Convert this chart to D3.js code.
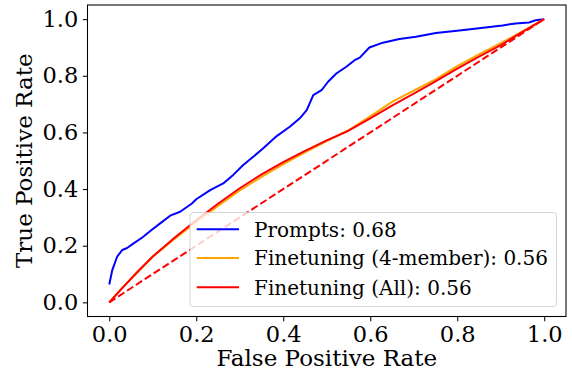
<!DOCTYPE html>
<html>
<head>
<meta charset="utf-8">
<script src="https://cdn.jsdelivr.net/npm/d3@7"></script>
<style>
  html, body { margin: 0; padding: 0; background: #fff; }
  svg { display: block; }
  text { font-family: "DejaVu Serif", serif; fill: #000; }
</style>
</head>
<body>
<svg id="chart" width="572" height="376"></svg>
<script>
// ---- data ----
const promptsFpr = [0, 0.007, 0.018, 0.03, 0.041, 0.056, 0.076, 0.095, 0.117, 0.14, 0.163, 0.19, 0.2, 0.232, 0.262, 0.285, 0.308, 0.331, 0.354, 0.385, 0.415, 0.438, 0.454, 0.469, 0.488, 0.503, 0.522, 0.545, 0.564, 0.576, 0.598, 0.629, 0.667, 0.705, 0.751, 0.805, 0.85, 0.904, 0.934, 0.965, 0.98, 1.0];
const promptsTpr = [0.063, 0.114, 0.161, 0.185, 0.192, 0.208, 0.229, 0.253, 0.279, 0.306, 0.32, 0.349, 0.364, 0.396, 0.42, 0.45, 0.485, 0.514, 0.544, 0.587, 0.62, 0.65, 0.679, 0.732, 0.749, 0.779, 0.808, 0.832, 0.855, 0.864, 0.9, 0.917, 0.93, 0.938, 0.951, 0.96, 0.968, 0.978, 0.985, 0.988, 0.996, 1.0];

const ft4Fpr = [0, 0.03, 0.06, 0.1, 0.15, 0.2, 0.25, 0.3, 0.35, 0.4, 0.45, 0.5, 0.55, 0.6, 0.65, 0.7, 0.75, 0.8, 0.85, 0.9, 0.95, 1.0];
const ft4Tpr = [0, 0.052, 0.098, 0.161, 0.224, 0.284, 0.34, 0.395, 0.443, 0.488, 0.53, 0.569, 0.607, 0.657, 0.708, 0.748, 0.787, 0.834, 0.876, 0.915, 0.957, 1.0];

const ftAllFpr = [0, 0.03, 0.06, 0.1, 0.15, 0.2, 0.25, 0.3, 0.35, 0.4, 0.45, 0.5, 0.55, 0.6, 0.65, 0.7, 0.75, 0.8, 0.85, 0.9, 0.95, 1.0];
const ftAllTpr = [0, 0.05, 0.1, 0.162, 0.228, 0.29, 0.348, 0.403, 0.452, 0.495, 0.535, 0.572, 0.606, 0.65, 0.695, 0.737, 0.78, 0.825, 0.868, 0.908, 0.955, 1.0];

const chanceFpr = [0, 1];
const chanceTpr = [0, 1];

const xTicks = [0, 0.2, 0.4, 0.6, 0.8, 1.0];
const yTicks = [0, 0.2, 0.4, 0.6, 0.8, 1.0];
const seriesNames = ["Prompts: 0.68", "Finetuning (4-member): 0.56", "Finetuning (All): 0.56"];
const seriesColors = ["#0000ff", "#ffa500", "#ff0000"];

// ---- layout ----
const svg = d3.select("#chart");
const L = 87.5, R = 566, T = 5, B = 316.5;
const x = d3.scaleLinear().domain([-0.05, 1.05]).range([L, R]);
const y = d3.scaleLinear().domain([-0.05, 1.05]).range([B, T]);

const zip = (a, b) => a.map((v, i) => [v, b[i]]);
const line = d3.line().x(d => x(d[0])).y(d => y(d[1]));

const plot = svg.append("g");
plot.append("path").datum(zip(promptsFpr, promptsTpr))
  .attr("d", line).attr("fill", "none").attr("stroke", seriesColors[0]).attr("stroke-width", 2).attr("stroke-linejoin", "round");
plot.append("path").datum(zip(ft4Fpr, ft4Tpr))
  .attr("d", line).attr("fill", "none").attr("stroke", seriesColors[1]).attr("stroke-width", 2).attr("stroke-linejoin", "round");
plot.append("path").datum(zip(ftAllFpr, ftAllTpr))
  .attr("d", line).attr("fill", "none").attr("stroke", seriesColors[2]).attr("stroke-width", 2).attr("stroke-linejoin", "round");
plot.append("path").datum(zip(chanceFpr, chanceTpr))
  .attr("d", line).attr("fill", "none").attr("stroke", "#ff0000").attr("stroke-width", 2).attr("stroke-dasharray", "7.4,3.2");

// axes
const xAxis = d3.axisBottom(x).tickValues(xTicks).tickFormat(d3.format(".1f")).tickSizeOuter(0).tickSize(4.7).tickPadding(4.5);
const yAxis = d3.axisLeft(y).tickValues(yTicks).tickFormat(d3.format(".1f")).tickSizeOuter(0).tickSize(4.7).tickPadding(4.5);
const gx = svg.append("g").attr("transform", `translate(0,${B})`).call(xAxis);
const gy = svg.append("g").attr("transform", `translate(${L},0)`).call(yAxis);
[gx, gy].forEach(g => {
  g.select(".domain").remove();
  g.selectAll(".tick line").attr("stroke", "#000").attr("stroke-width", 1.07);
  g.selectAll(".tick text").style("font-family", "DejaVu Serif").style("font-size", "22.5px").attr("fill", "#000");
});

// frame
svg.append("rect").attr("x", L).attr("y", T).attr("width", R - L).attr("height", B - T)
  .attr("fill", "none").attr("stroke", "#000").attr("stroke-width", 1.07);

// axis labels
svg.append("text").attr("x", (L + R) / 2).attr("y", 366).attr("text-anchor", "middle")
  .style("font-size", "23px").text("False Positive Rate");
svg.append("text").attr("transform", `translate(32,${(T + B) / 2}) rotate(-90)`).attr("text-anchor", "middle")
  .style("font-size", "23px").text("True Positive Rate");

// legend
const lg = svg.append("g");
lg.append("rect").attr("x", 190).attr("y", 212.5).attr("width", 366.5).attr("height", 94).attr("rx", 3)
  .attr("fill", "#fff").attr("fill-opacity", 0.8).attr("stroke", "#cccccc").attr("stroke-opacity", 0.8).attr("stroke-width", 1);
const rowY = [229.3, 257.9, 287.3];
seriesNames.forEach((name, i) => {
  lg.append("line").attr("x1", 196.7).attr("x2", 239).attr("y1", rowY[i]).attr("y2", rowY[i])
    .attr("stroke", seriesColors[i]).attr("stroke-width", 2);
  lg.append("text").attr("x", 254).attr("y", rowY[i]).attr("dy", "0.36em")
    .style("font-size", "20px").text(name);
});
</script>
</body>
</html>
